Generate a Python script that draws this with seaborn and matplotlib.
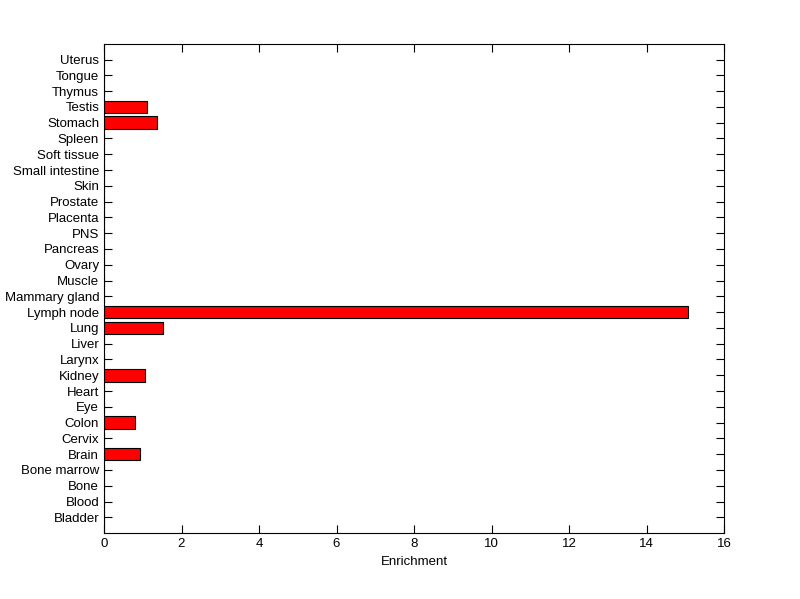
import seaborn as sns
import matplotlib.pyplot as plt
import pandas as pd

# tissues from bottom to top
tissues = ['Bladder', 'Blood', 'Bone', 'Bone marrow', 'Brain', 'Cervix', 'Colon', 'Eye',
           'Heart', 'Kidney', 'Larynx', 'Liver', 'Lung', 'Lymph node', 'Mammary gland',
           'Muscle', 'Ovary', 'Pancreas', 'PNS', 'Placenta', 'Prostate', 'Skin',
           'Small intestine', 'Soft tissue', 'Spleen', 'Stomach', 'Testis', 'Thymus',
           'Tongue', 'Uterus']
enrichment = [0, 0, 0, 0, 0.94, 0, 0.81, 0,
              0, 1.07, 0, 0, 1.53, 15.06, 0,
              0, 0, 0, 0, 0, 0, 0,
              0, 0, 0, 1.37, 1.10, 0,
              0, 0]

df = pd.DataFrame({'tissue': tissues, 'enrichment': enrichment})

sns.set_style('white')
plt.rcParams['font.family'] = ['Liberation Sans', 'DejaVu Sans']

fig = plt.figure(figsize=(8, 5.99), dpi=100)
ax = fig.add_axes([0.13, 0.11, 0.775, 0.817])

sns.barplot(data=df, x='enrichment', y='tissue', order=tissues[::-1], orient='h',
            color='#ff0000', saturation=1, edgecolor='black', linewidth=0.8,
            width=0.8, ax=ax)

ax.set_ylim(len(tissues), -1)
ax.set_xlim(0, 16)
ax.set_xticks(range(0, 17, 2))
ax.set_xlabel('Enrichment', fontsize=9.5, color='black')
ax.set_ylabel('')
ax.tick_params(direction='in', top=True, right=True, bottom=True, left=True,
               length=6, width=0.8, labelsize=9.5, color='black', labelcolor='black')
for sp in ax.spines.values():
    sp.set_visible(True)
    sp.set_color('black')
    sp.set_linewidth(0.8)

fig.savefig('out.png', dpi=100, facecolor='white')
